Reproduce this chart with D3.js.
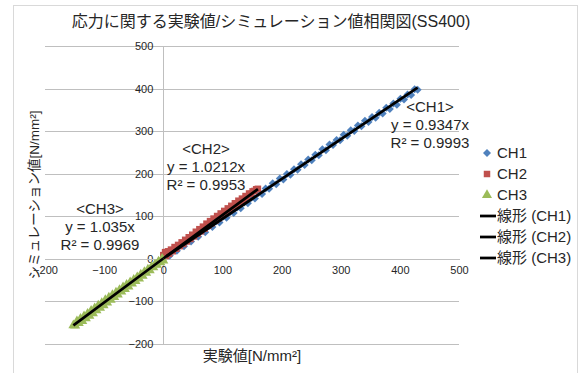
<!DOCTYPE html>
<html lang="ja">
<head>
<meta charset="utf-8">
<script src="https://cdn.jsdelivr.net/npm/d3@7"></script>
<style>
  html, body { margin: 0; padding: 0; background: #fff; }
  svg { display: block; font-family: "Liberation Sans", Arial, "Noto Sans CJK JP", sans-serif; }
</style>
</head>
<body>
<svg id="chart" width="582" height="373"></svg>
<script>
// 応力の実験値とシミュレーション値 [N/mm²]
const ch1 = [
  [5, 8], [11, 7], [17, 19], [23, 18], [29, 31], [35, 29], [41, 42], [47, 40],
  [53, 53], [59, 51], [65, 64], [71, 62], [77, 76], [83, 74], [89, 87], [95, 85],
  [101, 98], [107, 96], [113, 109], [119, 107], [125, 120], [131, 118], [137, 132],
  [143, 130], [149, 143], [155, 141], [161, 154], [167, 152], [173, 165], [179, 164],
  [185, 177], [191, 175], [197, 188], [203, 186], [209, 199], [215, 197], [221, 210],
  [227, 209], [233, 222], [239, 220], [245, 233], [251, 231], [257, 244], [263, 243],
  [269, 257], [275, 255], [281, 268], [287, 267], [293, 279], [299, 278], [305, 291],
  [311, 289], [317, 302], [323, 300], [329, 313], [335, 311], [341, 324], [347, 321],
  [353, 333], [359, 331], [365, 343], [371, 341], [377, 355], [383, 352], [389, 365],
  [395, 362], [401, 376], [407, 374], [413, 386], [419, 385], [425, 398], [430, 397]
];
const ch2 = [
  [0, 8], [3, 15], [5, 6], [8, 17], [10, 11], [13, 21], [16, 17], [19, 27], [22, 23],
  [25, 32], [28, 29], [31, 38], [34, 34], [37, 44], [40, 40], [43, 50], [46, 46],
  [49, 56], [52, 52], [55, 63], [58, 58], [61, 69], [64, 64], [67, 75], [70, 70],
  [73, 82], [76, 77], [79, 88], [82, 83], [85, 94], [88, 89], [91, 100], [94, 95],
  [97, 106], [100, 101], [103, 112], [106, 107], [109, 118], [112, 113], [115, 124],
  [118, 119], [121, 130], [124, 125], [127, 136], [130, 132], [133, 141], [136, 138],
  [139, 147], [142, 145], [145, 153], [148, 152], [151, 158], [154, 159], [157, 163],
  [160, 164]
];
const ch3 = [
  [-152, -157], [-149, -158], [-146, -148], [-143, -152], [-140, -142], [-137, -147],
  [-134, -136], [-131, -141], [-128, -130], [-125, -135], [-122, -123], [-119, -129],
  [-116, -117], [-113, -122], [-110, -111], [-107, -116], [-104, -105], [-101, -110],
  [-98, -98], [-95, -104], [-92, -92], [-89, -97], [-86, -86], [-83, -91], [-80, -80],
  [-77, -85], [-74, -74], [-71, -78], [-68, -68], [-65, -72], [-62, -62], [-59, -66],
  [-56, -56], [-53, -59], [-50, -50], [-47, -53], [-44, -44], [-41, -47], [-38, -38],
  [-35, -41], [-32, -32], [-29, -34], [-26, -26], [-23, -28], [-20, -20], [-17, -21],
  [-14, -14], [-11, -15], [-8, -7], [-5, -9], [-2, -1], [0, -5]
];

const seriesNames = ["CH1", "CH2", "CH3"];
const slopes = [0.9347, 1.0212, 1.035];
const r2 = [0.9993, 0.9953, 0.9969];
const trendNames = ["線形 (CH1)", "線形 (CH2)", "線形 (CH3)"];
const xTicks = [-200, -100, 0, 100, 200, 300, 400, 500];
const yTicks = [-200, -100, 0, 100, 200, 300, 400, 500];

const colors = ["#4f81bd", "#c0504d", "#9bbb59"];
const data = [ch1, ch2, ch3];

const svg = d3.select("#chart");

// 外枠
svg.append("rect")
  .attr("x", 13.5).attr("y", 5.5).attr("width", 564).attr("height", 380)
  .attr("fill", "#fff").attr("stroke", "#d9d9d9");

const x = d3.scaleLinear().domain([-200, 500]).range([45, 459]);
const y = d3.scaleLinear().domain([-200, 500]).range([343.5, 46]);

// 目盛線
const grid = svg.append("g").attr("transform", `translate(${x(-200)},0)`)
  .call(d3.axisLeft(y).tickValues(yTicks).tickSize(-(x(500) - x(-200))).tickFormat(""));
grid.select(".domain").remove();
grid.selectAll(".tick line").attr("stroke", "#bfbfbf").attr("shape-rendering", "crispEdges");

// 縦軸 (x = 0)
const yAxis = svg.append("g").attr("transform", `translate(${x(0)},0)`)
  .call(d3.axisLeft(y).tickValues(yTicks).tickSize(0).tickPadding(10).tickSizeOuter(0));
yAxis.select(".domain").attr("stroke", "#bfbfbf").attr("shape-rendering", "crispEdges");
yAxis.selectAll(".tick text").attr("font-size", 11).attr("fill", "#262626")
  .attr("font-family", "Liberation Sans, Arial, sans-serif");

// 横軸 (y = 0)
const xAxis = svg.append("g").attr("transform", `translate(0,${y(0)})`)
  .call(d3.axisBottom(x).tickValues(xTicks).tickSize(0).tickPadding(8).tickSizeOuter(0));
xAxis.select(".domain").attr("stroke", "#bfbfbf").attr("shape-rendering", "crispEdges");
xAxis.selectAll(".tick text").attr("font-size", 11).attr("fill", "#262626")
  .attr("font-family", "Liberation Sans, Arial, sans-serif");

// マーカー
const markerPath = [
  d3.symbol().type(d3.symbolSquare).size(32)(),   // ひし形 (45°回転)
  d3.symbol().type(d3.symbolSquare).size(42)(),
  d3.symbol().type(d3.symbolTriangle).size(44)()
];
const markerRotate = [45, 0, 0];

data.forEach((pts, i) => {
  svg.append("g").selectAll("path")
    .data(pts)
    .join("path")
    .attr("d", markerPath[i])
    .attr("transform", d => `translate(${x(d[0])},${y(d[1])}) rotate(${markerRotate[i]})`)
    .attr("fill", colors[i]);
});

// 近似直線 (原点を通る線形近似)
data.forEach((pts, i) => {
  const [x0, x1] = d3.extent(pts, d => d[0]);
  svg.append("line")
    .attr("x1", x(x0)).attr("y1", y(slopes[i] * x0))
    .attr("x2", x(x1)).attr("y2", y(slopes[i] * x1))
    .attr("stroke", "#000").attr("stroke-width", 2.75);
});

// 近似式ラベル
const labelPos = [[430, 107], [206, 149], [100, 209]];
labelPos.forEach(([cx, cy], i) => {
  const t = svg.append("text")
    .attr("x", cx).attr("y", cy)
    .attr("text-anchor", "middle")
    .attr("font-size", 15).attr("fill", "#262626");
  const lines = [`<${seriesNames[i]}>`, `y = ${slopes[i]}x`, `R² = ${r2[i]}`];
  lines.forEach((s, k) => {
    t.append("tspan").attr("x", cx).attr("y", cy + 5 + k * 18).text(s);
  });
});

// タイトル
svg.append("text")
  .attr("x", 271).attr("y", 27)
  .attr("text-anchor", "middle")
  .attr("font-size", 16).attr("fill", "#262626")
  .text("応力に関する実験値/シミュレーション値相関図(SS400)");

// 軸ラベル
svg.append("text")
  .attr("x", 252).attr("y", 361)
  .attr("text-anchor", "middle")
  .attr("font-size", 15).attr("fill", "#262626")
  .text("実験値[N/mm²]");

svg.append("text")
  .attr("transform", "translate(39,195) rotate(-90)")
  .attr("text-anchor", "middle")
  .attr("font-size", 13.5).attr("fill", "#262626")
  .text("シミュレーション値[N/mm²]");

// 凡例
const legendY = [153, 174, 195, 216, 237, 258];
const legend = svg.append("g");
seriesNames.forEach((name, i) => {
  legend.append("path")
    .attr("d", markerPath[i])
    .attr("transform", `translate(487,${legendY[i]}) rotate(${markerRotate[i]})`)
    .attr("fill", colors[i]);
  legend.append("text")
    .attr("x", 497).attr("y", legendY[i] + 5)
    .attr("font-size", 15).attr("fill", "#262626")
    .text(name);
});
trendNames.forEach((name, i) => {
  const ly = legendY[3 + i];
  legend.append("line")
    .attr("x1", 480).attr("x2", 496).attr("y1", ly).attr("y2", ly)
    .attr("stroke", "#000").attr("stroke-width", 2.75);
  legend.append("text")
    .attr("x", 497).attr("y", ly + 5)
    .attr("font-size", 15).attr("fill", "#262626")
    .text(name);
});
</script>
</body>
</html>
